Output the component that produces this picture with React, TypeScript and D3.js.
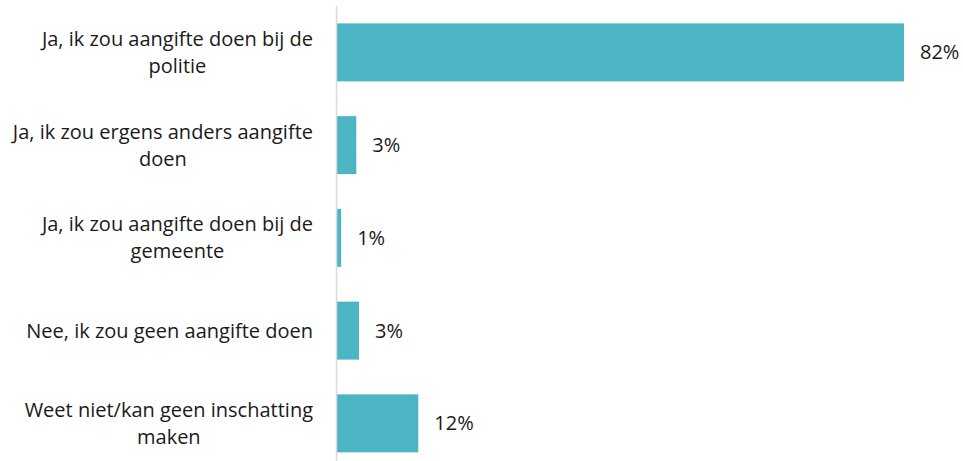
import * as d3 from 'd3';
import React, { useEffect } from 'react';

const categories = [
  ['Ja, ik zou aangifte doen bij de', 'politie'],
  ['Ja, ik zou ergens anders aangifte', 'doen'],
  ['Ja, ik zou aangifte doen bij de', 'gemeente'],
  ['Nee, ik zou geen aangifte doen'],
  ['Weet niet/kan geen inschatting', 'maken'],
];
const values = [82.3, 2.8, 0.6, 3.2, 11.8];

const width = 963;
const height = 461;
const axisX = 337;
const labelRight = 313;
const barColor = '#4bb5c4';
const font = "'Open Sans', sans-serif";
const fontSize = 20;
const lineHeight = 27;

// measure text so multi-line labels can be centred as a block, right aligned
const ctx = document.createElement('canvas').getContext('2d')!;
ctx.font = `${fontSize}px 'Open Sans'`;
const measure = (s: string) => ctx.measureText(s).width;

const App: React.FC = () => {
  useEffect(() => {
    document.body.style.margin = '0';
  }, []);

  const yScale = d3
    .scaleBand<number>()
    .domain(d3.range(categories.length))
    .range([6, 469.75])
    .paddingInner(0.375)
    .paddingOuter(0.1875);

  const xScale = d3.scaleLinear().domain([0, 82.3]).range([axisX, 904]);

  return (
    <svg width={width} height={height} style={{ display: 'block' }} fontFamily={font} fontSize={fontSize}>
      <rect width={width} height={height} fill="#fff" />
      {values.map((v, i) => {
        const y = yScale(i)!;
        const bw = yScale.bandwidth();
        const cy = y + bw / 2;
        const lines = categories[i];
        const first = cy - ((lines.length - 1) * lineHeight) / 2;
        const blockW = d3.max(lines, measure) || 0;
        const centerX = labelRight - blockW / 2;
        return (
          <g key={i}>
            <rect x={xScale(0)} y={y} width={xScale(v) - xScale(0)} height={bw} fill={barColor} />
            <text x={xScale(v) + 16} y={cy} dy="0.35em" fill="#1a1a1a">
              {`${Math.round(v)}%`}
            </text>
            <text textAnchor="middle" fill="#1a1a1a">
              {lines.map((l, j) => (
                <tspan key={j} x={centerX} y={first + j * lineHeight} dy="0.35em">
                  {l}
                </tspan>
              ))}
            </text>
          </g>
        );
      })}
      <line x1={axisX - 0.5} x2={axisX - 0.5} y1={6} y2={height} stroke="#d9d9d9" strokeWidth={1.5} />
    </svg>
  );
};

export default App;
